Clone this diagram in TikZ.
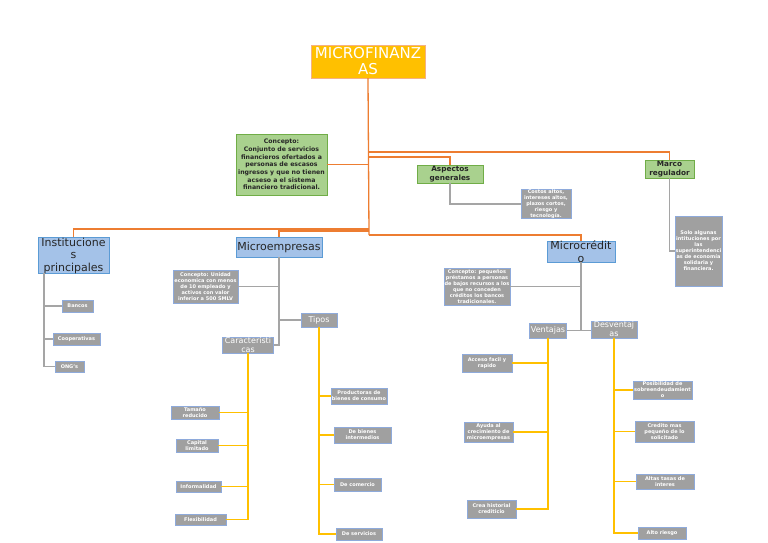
\documentclass[tikz,border=0pt]{standalone}
\usepackage{fontspec}
\setmainfont{DejaVu Sans}
\usetikzlibrary{positioning,calc}
\definecolor{orln}{HTML}{ED7D31}
\definecolor{gold}{HTML}{FFC000}
\definecolor{gyln}{HTML}{A5A5A5}
\definecolor{gyfill}{HTML}{A0A0A0}
\definecolor{gybd}{HTML}{8EAADB}
\definecolor{blfill}{HTML}{A4C2E8}
\definecolor{blbd}{HTML}{5B9BD5}
\definecolor{grfill}{HTML}{A9D18E}
\definecolor{grbd}{HTML}{70AD47}

\begin{document}
\begin{tikzpicture}[x=1pt,y=-1pt,
topbox/.style={draw=orln!60,fill=gold,text=white,inner sep=0pt,align=center,font=\fontsize{15}{16}\selectfont},
bluebox/.style={draw=blbd,fill=blfill,text=black!85,inner sep=0pt,align=center,font=\fontsize{11}{12.5}\selectfont},
greenbox/.style={draw=grbd,fill=grfill,text=black!85,inner sep=0pt,align=center,font=\bfseries\fontsize{6.2}{7.7}\selectfont},
greenhead/.style={greenbox,font=\bfseries\fontsize{7.3}{8.6}\selectfont},
greybox/.style={draw=gybd,fill=gyfill,text=white,inner sep=0pt,align=center,font=\bfseries\fontsize{5}{6}\selectfont},
greyhead/.style={greybox,font=\fontsize{8}{9}\selectfont},
oline/.style={draw=orln,line width=1.3pt},
gline/.style={draw=gyln,line width=1.3pt},
yline/.style={draw=gold,line width=1.3pt}]
\fill[white] (0,0) rectangle (768,543);
\useasboundingbox (0,0) rectangle (768,543);

\node[topbox,minimum width=114,minimum height=33] (micro) at (368,61.5) {MICROFINANZ\\AS};
\node[greenbox,minimum width=91,minimum height=61] (concepto) at (281.5,164.5) {Concepto:\\Conjunto de servicios\\financieros ofertados a\\personas de escasos\\ingresos y que no tienen\\acseso a el sistema\\financiero tradicional.};
\node[greenhead,minimum width=66,minimum height=18] (aspectos) at (450,174) {Aspectos\\generales};
\node[greenhead,minimum width=49,minimum height=18] (marco) at (669.5,169) {Marco\\regulador};
\node[greybox,minimum width=50,minimum height=23] (aspgrey) at (546,204) {Costos altos,\\intereses altos,\\plazos cortos,\\riesgo y\\tecnología.};
\node[greybox,minimum width=47,minimum height=70] (marcogrey) at (698.5,251) {Solo algunas\\intituciones por\\las\\superintendenci\\as de economía\\solidaria y\\financiera.};

\node[bluebox,minimum width=71,minimum height=35] (inst) at (73.5,255.5) {Institucione\\s\\principales};
\node[bluebox,minimum width=86,minimum height=20] (microemp) at (279,247) {Microempresas};
\node[bluebox,minimum width=68,minimum height=21] (microcred) at (581,251.5) {Microcrédit\\o};

\node[greybox,minimum width=31,minimum height=12] (bancos) at (77.5,306) {Bancos};
\node[greybox,minimum width=47,minimum height=12] (coop) at (76.5,339) {Cooperativas};
\node[greybox,minimum width=29,minimum height=11] (ong) at (69.5,366.5) {ONG's};

\node[greybox,minimum width=65,minimum height=33] (concemp) at (205.5,286.5) {Concepto: Unidad\\economica con menos\\de 10 empleado y\\activos con valor\\inferior a 500 SMLV};
\node[greyhead,minimum width=36,minimum height=14] (tipos) at (319,320) {Tipos};
\node[greyhead,minimum width=51,minimum height=14] (caract) at (248,345) {Característi\\cas};

\node[greybox,minimum width=56,minimum height=16] (prod) at (359,396) {Productoras de\\bienes de consumo};
\node[greybox,minimum width=57,minimum height=16] (inter) at (362.5,435) {De bienes\\intermedios};
\node[greybox,minimum width=47,minimum height=13] (comer) at (357.5,484.5) {De comercio};
\node[greybox,minimum width=46,minimum height=12] (serv) at (359,534) {De servicios};

\node[greybox,minimum width=48,minimum height=13] (tam) at (195,412.5) {Tamaño\\reducido};
\node[greybox,minimum width=42,minimum height=13] (cap) at (197,445.5) {Capital\\limitado};
\node[greybox,minimum width=45,minimum height=11] (inf) at (198.5,486.5) {Informalidad};
\node[greybox,minimum width=51,minimum height=11] (flex) at (200.5,519.5) {Flexibilidad};

\node[greybox,minimum width=66,minimum height=37] (conccred) at (477,286.5) {Concepto: pequeños\\préstamos a personas\\de bajos recursos a los\\que no conceden\\créditos los bancos\\tradicionales.};
\node[greyhead,minimum width=37,minimum height=15] (vent) at (548,330.5) {Ventajas};
\node[greyhead,minimum width=46,minimum height=17] (desv) at (614,329.5) {Desventaj\\as};

\node[greybox,minimum width=50,minimum height=18] (acc) at (487,363) {Acceso facil y\\rapido};
\node[greybox,minimum width=49,minimum height=20] (ayu) at (488.5,432) {Ayuda al\\crecimiento de\\microempresas};
\node[greybox,minimum width=49,minimum height=18] (crea) at (491.5,509) {Crea historial\\crediticio};

\node[greybox,minimum width=59,minimum height=18] (pos) at (662.5,390) {Posibilidad de\\sobreendeudamient\\o};
\node[greybox,minimum width=59,minimum height=21] (cred) at (664.5,431.5) {Credito mas\\pequeño de lo\\solicitado};
\node[greybox,minimum width=58,minimum height=15] (altas) at (665,481.5) {Altas tasas de\\interes};
\node[greybox,minimum width=48,minimum height=12] (alto) at (662,533) {Alto riesgo};

\coordinate (jm) at (369,152);
\coordinate (ja) at (369,157);
\coordinate (ji) at (369,229);
\coordinate (je) at (369,231);
\coordinate (jc) at (369,235);
\coordinate (it) at (44,273);
\coordinate (ib) at (44,366.5);

\draw[oline] (micro.south) -- (jc);
\draw[oline] (concepto.east) -- (concepto.east -| micro.south);
\draw[oline] (jm) -| (marco.north);
\draw[oline] (ja) -| (aspectos.north);
\draw[oline] (ji) -| (inst.north);
\draw[oline] (je) -| (microemp.north);
\draw[oline] (jc) -| (microcred.north);

\draw[gline] (aspectos.south) |- (aspgrey.west);
\draw[gline] (marco.south) |- (marcogrey.west);
\draw[gline] (it) -- (ib) -- (ong.west);
\foreach \n in {bancos,coop}
  \draw[gline] (\n.west) -- (\n.west -| it);
\draw[gline] (microemp.south) |- (caract.east);
\draw[gline] (concemp.east) -- (concemp.east -| microemp.south);
\draw[gline] (tipos.west) -- (tipos.west -| microemp.south);
\draw[gline] (microcred.south) |- (vent.east);
\draw[gline] (conccred.east) -- (conccred.east -| microcred.south);
\draw[gline] (vent.east -| microcred.south) -- (vent.east -| desv.west);

\draw[yline] (tipos.south) |- (serv.west);
\foreach \n in {prod,inter,comer}
  \draw[yline] (\n.west) -- (\n.west -| tipos.south);
\draw[yline] (caract.south) |- (flex.east);
\foreach \n in {tam,cap,inf}
  \draw[yline] (\n.east) -- (\n.east -| caract.south);
\draw[yline] (vent.south) |- (crea.east);
\foreach \n in {acc,ayu}
  \draw[yline] (\n.east) -- (\n.east -| vent.south);
\draw[yline] (desv.south) |- (alto.west);
\foreach \n in {pos,cred,altas}
  \draw[yline] (\n.west) -- (\n.west -| desv.south);
\end{tikzpicture}
\end{document}
